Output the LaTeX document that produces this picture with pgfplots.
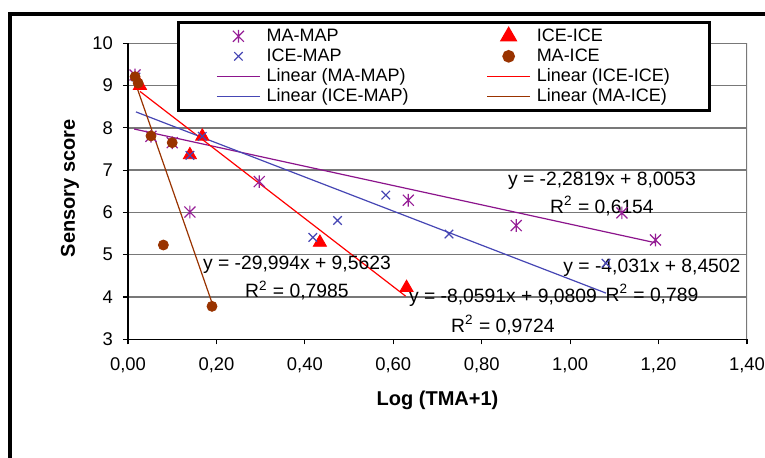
\documentclass[border=0pt]{standalone}
\usepackage{fontspec}
\setmainfont{Liberation Sans}
\usepackage{pgfplots}
\pgfplotsset{compat=1.18}
\definecolor{mamap}{RGB}{150,30,150}
\definecolor{mamapline}{RGB}{140,20,140}
\definecolor{icemap}{RGB}{70,70,180}
\definecolor{iceice}{RGB}{255,0,0}
\definecolor{maice}{RGB}{153,51,0}
\definecolor{gridgray}{RGB}{120,120,120}
\pgfdeclareplotmark{xstar}{%
  \pgfpathmoveto{\pgfqpoint{-\pgfplotmarksize}{-\pgfplotmarksize}}%
  \pgfpathlineto{\pgfqpoint{\pgfplotmarksize}{\pgfplotmarksize}}%
  \pgfpathmoveto{\pgfqpoint{-\pgfplotmarksize}{\pgfplotmarksize}}%
  \pgfpathlineto{\pgfqpoint{\pgfplotmarksize}{-\pgfplotmarksize}}%
  \pgfpathmoveto{\pgfqpoint{0pt}{-1.15\pgfplotmarksize}}%
  \pgfpathlineto{\pgfqpoint{0pt}{1.15\pgfplotmarksize}}%
  \pgfusepathqstroke}
\begin{document}
\begin{tikzpicture}
\useasboundingbox (-64pt,-58.85pt) rectangle (318.5pt,169.65pt);
\fill[white] (-64pt,-58.85pt) rectangle (318.5pt,169.65pt);
\begin{axis}[
  at={(0pt,0pt)}, anchor=origin,
  scale only axis, width=309.5pt, height=148pt,
  xmin=0, xmax=1.4, ymin=3, ymax=10,
  enlargelimits=false,
  axis x line*=bottom, axis y line*=left,
  axis line style={black, line width=0.6pt},
  xtick={0,0.2,0.4,0.6,0.8,1.0,1.2,1.4},
  ytick={3,4,5,6,7,8,9,10},
  tick align=outside, major tick length=2.5pt,
  tick style={black, line width=0.6pt},
  ymajorgrids, grid style={gridgray, line width=0.7pt},
  /pgf/number format/assume math mode=true,
  xticklabel style={/pgf/number format/fixed, /pgf/number format/fixed zerofill, /pgf/number format/precision=2, /pgf/number format/use comma, yshift=-3pt},
  ticklabel style={font=\fontsize{9.2}{11}\selectfont},
  yticklabel style={xshift=-1.5pt},
  xlabel={\textbf{Log (TMA+1)}},
  ylabel={\textbf{Sensory score}},
  xlabel style={font=\fontsize{10}{12}\selectfont, at={(axis description cs:0.5,-0.205)}, anchor=center},
  ylabel style={font=\fontsize{10}{12}\selectfont, at={(axis description cs:-0.0937,0.51)}, anchor=center},
  legend columns=2,
  legend image code/.code={\draw[mark repeat=2,mark phase=2,#1] plot coordinates {(0pt,0pt) (10.75pt,0pt) (21.5pt,0pt)};},
  legend style={at={(axis description cs:0.0792,1.0753)}, anchor=north west,
    draw=black, line width=1.3pt, fill=white,
    font=\fontsize{9}{10}\selectfont,
    inner xsep=19pt, inner ysep=2pt,
    nodes={text height=6.6pt, text depth=1.8pt, inner ysep=0.8pt, inner xsep=1pt},
    /tikz/every even column/.append style={column sep=38pt},
    /tikz/every odd column/.append style={column sep=2pt},
    cells={anchor=west}},
]
% markers
\addplot[only marks, mark=xstar, mark size=2.75pt, draw=mamap, line width=0.6pt] coordinates {
  (0.016,9.25) (0.052,7.80) (0.100,7.65) (0.140,6.01) (0.297,6.73)
  (0.634,6.29) (0.878,5.69) (1.117,5.99) (1.193,5.35)};
\addlegendentry{MA-MAP}
\addplot[only marks, mark=triangle*, mark size=3.8pt, draw=iceice, fill=iceice] coordinates {
  (0.027,9.00) (0.140,7.36) (0.168,7.80) (0.434,5.29) (0.630,4.22)};
\addlegendentry{ICE-ICE}
\addplot[only marks, mark=x, mark size=3pt, draw=icemap, line width=0.6pt] coordinates {
  (0.018,9.20) (0.140,7.35) (0.168,7.80) (0.418,5.41) (0.474,5.81)
  (0.583,6.41) (0.726,5.49) (1.081,4.80)};
\addlegendentry{ICE-MAP}
\addplot[only marks, mark=*, mark size=2.5pt, draw=maice, fill=maice] coordinates {
  (0.016,9.21) (0.023,9.06) (0.052,7.81) (0.100,7.65) (0.080,5.23) (0.190,3.78)};
\addlegendentry{MA-ICE}
% trend lines
\addplot[mamapline, line width=0.6pt] coordinates {(0.014,7.973) (1.193,5.283)};
\addlegendentry{Linear (MA-MAP)}
\addplot[iceice, line width=0.6pt] coordinates {(0.027,8.863) (0.628,4.020)};
\addlegendentry{Linear (ICE-ICE)}
\addplot[icemap, line width=0.6pt] coordinates {(0.018,8.378) (1.081,4.093)};
\addlegendentry{Linear (ICE-MAP)}
\addplot[maice, line width=0.6pt] coordinates {(0.016,9.082) (0.190,3.863)};
\addlegendentry{Linear (MA-ICE)}
% right border of plot area
\draw[gridgray, line width=0.7pt] (rel axis cs:1,0) -- (rel axis cs:1,1);
% equations
\begin{scope}[every node/.style={font=\fontsize{9.65}{11}\selectfont, inner sep=0pt, anchor=center}]
\node at (axis cs:1.072,6.74) {y = -2,2819x + 8,0053};
\node at (axis cs:1.072,6.15) {R\textsuperscript{2} = 0,6154};
\node at (axis cs:0.382,4.76) {y = -29,994x + 9,5623};
\node at (axis cs:0.382,4.15) {R\textsuperscript{2} = 0,7985};
\node at (axis cs:0.848,3.98) {y = -8,0591x + 9,0809};
\node at (axis cs:0.848,3.34) {R\textsuperscript{2} = 0,9724};
\node at (axis cs:1.185,4.69) {y = -4,031x + 8,4502};
\node at (axis cs:1.185,4.07) {R\textsuperscript{2} = 0,789};
\end{scope}
\end{axis}
% outer chart frame
\draw[black, line width=1.8pt] (-59pt,-70pt) -- (-59pt,162.65pt) -- (330pt,162.65pt);
\end{tikzpicture}
\end{document}
